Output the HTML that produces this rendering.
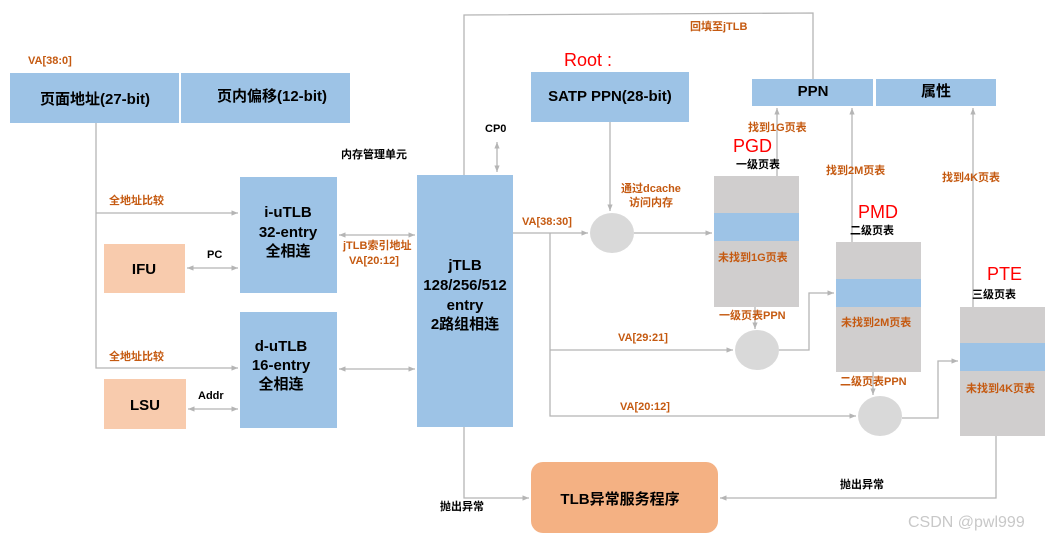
<!DOCTYPE html>
<html><head><meta charset="utf-8"><style>
html,body{margin:0;padding:0;background:#fff;width:1061px;height:540px;overflow:hidden}
svg{display:block}
text{font-family:"Liberation Sans","Noto Sans CJK SC",sans-serif;font-weight:bold}
.b{fill:#9DC3E6}.g{fill:#D0CECE}.o{fill:#F8CBAD}
.l{stroke:#b5b5b5;stroke-width:1.3;fill:none}
.t{fill:#000}.r{fill:#C55A11;font-size:11px}.k{fill:#000;font-size:11px}
.red{fill:#FF0000;font-weight:normal;font-size:18px}
</style></head><body>
<svg width="1061" height="540" viewBox="0 0 1061 540">
<defs><marker id="a" markerWidth="6" markerHeight="6" refX="5" refY="3" orient="auto-start-reverse"><path d="M0,1 L5,3 L0,5z" fill="#b5b5b5"/></marker></defs>
<!-- lines -->
<polyline class="l" points="464,175 464,15 813,13 813,79"/>
<line class="l" x1="497" y1="142" x2="497" y2="172" marker-start="url(#a)" marker-end="url(#a)"/>
<polyline class="l" points="96,123 96,368 238,368" marker-end="url(#a)"/>
<line class="l" x1="96" y1="213" x2="238" y2="213" marker-end="url(#a)"/>
<line class="l" x1="339" y1="235" x2="415" y2="235" marker-start="url(#a)" marker-end="url(#a)"/>
<line class="l" x1="339" y1="369" x2="415" y2="369" marker-start="url(#a)" marker-end="url(#a)"/>
<line class="l" x1="187" y1="268" x2="238" y2="268" marker-start="url(#a)" marker-end="url(#a)"/>
<line class="l" x1="188" y1="409" x2="238" y2="409" marker-start="url(#a)" marker-end="url(#a)"/>
<line class="l" x1="513" y1="233" x2="588" y2="233" marker-end="url(#a)"/>
<line class="l" x1="634" y1="233" x2="712" y2="233" marker-end="url(#a)"/>
<polyline class="l" points="550,233 550,416 856,416" marker-end="url(#a)"/>
<line class="l" x1="550" y1="350" x2="733" y2="350" marker-end="url(#a)"/>
<line class="l" x1="610" y1="122" x2="610" y2="211" marker-end="url(#a)"/>
<polyline class="l" points="779,350 809,350 809,293 834,293" marker-end="url(#a)"/>
<polyline class="l" points="902,418 938,418 938,361 958,361" marker-end="url(#a)"/>
<line class="l" x1="755" y1="241" x2="755" y2="329" marker-end="url(#a)"/>
<line class="l" x1="777" y1="176" x2="777" y2="108" marker-end="url(#a)"/>
<line class="l" x1="852" y1="242" x2="852" y2="108" marker-end="url(#a)"/>
<line class="l" x1="873" y1="307" x2="873" y2="395" marker-end="url(#a)"/>
<line class="l" x1="973" y1="307" x2="973" y2="108" marker-end="url(#a)"/>
<polyline class="l" points="996,371 996,498 720,498" marker-end="url(#a)"/>
<polyline class="l" points="464,427 464,498 529,498" marker-end="url(#a)"/>
<!-- boxes -->
<rect class="b" x="10" y="73" width="169" height="50"/>
<rect class="b" x="181" y="73" width="169" height="50"/>
<rect class="b" x="531" y="72" width="158" height="50"/>
<rect class="b" x="752" y="79" width="121" height="27"/>
<rect class="b" x="876" y="79" width="120" height="27"/>
<rect class="b" x="240" y="177" width="97" height="116"/>
<rect class="b" x="240" y="312" width="97" height="116"/>
<rect class="o" x="104" y="244" width="81" height="49"/>
<rect class="o" x="104" y="379" width="82" height="50"/>
<rect class="b" x="417" y="175" width="96" height="252"/>
<rect class="g" x="714" y="176" width="85" height="131"/><rect class="b" x="714" y="213" width="85" height="28"/>
<rect class="g" x="836" y="242" width="85" height="130"/><rect class="b" x="836" y="279" width="85" height="28"/>
<rect class="g" x="960" y="307" width="85" height="129"/><rect class="b" x="960" y="343" width="85" height="28"/>
<rect x="531" y="462" width="187" height="71" rx="12" fill="#F4B183"/>
<ellipse cx="612" cy="233" rx="22" ry="20" fill="#d9d9d9"/>
<ellipse cx="757" cy="350" rx="22" ry="20" fill="#d9d9d9"/>
<ellipse cx="880" cy="416" rx="22" ry="20" fill="#d9d9d9"/>
<!-- text -->
<g text-anchor="middle" font-size="15" class="t">
<text x="95" y="104">页面地址(27-bit)</text>
<text x="272" y="101">页内偏移(12-bit)</text>
<text x="610" y="101">SATP PPN(28-bit)</text>
<text x="813" y="96">PPN</text>
<text x="936" y="96">属性</text>
<text x="288" y="217">i-uTLB</text><text x="288" y="237">32-entry</text><text x="288" y="256">全相连</text>
<text x="281" y="351">d-uTLB</text><text x="281" y="370">16-entry</text><text x="281" y="389">全相连</text>
<text x="144" y="274">IFU</text><text x="145" y="410">LSU</text>
<text x="465" y="270">jTLB</text><text x="465" y="290">128/256/512</text><text x="465" y="310">entry</text><text x="465" y="329">2路组相连</text>
<text x="620" y="504">TLB异常服务程序</text>
</g>
<g class="r">
<text x="28" y="64">VA[38:0]</text>
<text x="690" y="30">回填至jTLB</text>
<text x="109" y="204">全地址比较</text>
<text x="109" y="360">全地址比较</text>
<text x="343" y="249">jTLB索引地址</text><text x="349" y="264">VA[20:12]</text>
<text x="522" y="225">VA[38:30]</text>
<text x="621" y="192">通过dcache</text><text x="629" y="206">访问内存</text>
<text x="748" y="131">找到1G页表</text>
<text x="826" y="174">找到2M页表</text>
<text x="942" y="181">找到4K页表</text>
<text x="718" y="261">未找到1G页表</text>
<text x="719" y="319">一级页表PPN</text>
<text x="618" y="341">VA[29:21]</text>
<text x="841" y="326">未找到2M页表</text>
<text x="840" y="385">二级页表PPN</text>
<text x="620" y="410">VA[20:12]</text>
<text x="966" y="392">未找到4K页表</text>
</g>
<g class="k">
<text x="485" y="132">CP0</text>
<text x="341" y="158">内存管理单元</text>
<text x="207" y="258">PC</text>
<text x="198" y="399">Addr</text>
<text x="736" y="168">一级页表</text>
<text x="850" y="234">二级页表</text>
<text x="972" y="298">三级页表</text>
<text x="440" y="510">抛出异常</text>
<text x="840" y="488">抛出异常</text>
</g>
<text class="red" x="564" y="66">Root :</text>
<text class="red" x="733" y="152">PGD</text>
<text class="red" x="858" y="218">PMD</text>
<text class="red" x="987" y="280">PTE</text>
<text x="908" y="527" font-size="16" fill="#c8c8c8" style="font-weight:normal">CSDN @pwl999</text>
</svg>
</body></html>
